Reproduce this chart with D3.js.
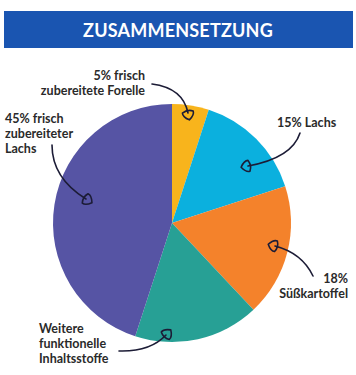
<!DOCTYPE html>
<html><head><meta charset="utf-8">
<script src="https://cdn.jsdelivr.net/npm/d3@7"></script>
<style>
html,body{margin:0;padding:0;background:#fff;}
svg{display:block;}
text{font-family:Lato,"Open Sans",sans-serif;}
</style></head>
<body><div id="chart"></div>
<script>
const title = "ZUSAMMENSETZUNG";
const categories = ["5% frisch zubereitete Forelle","15% Lachs","18% Süßkartoffel","Weitere funktionelle Inhaltsstoffe","45% frisch zubereiteter Lachs"];
const values = [5, 15, 18, 17, 45];
const colors = ["#f8b41c","#0bb0de","#f4822b","#27a095","#5654a4"];
const labelLines = [
  ["5% frisch","zubereitete Forelle"],
  ["15% Lachs"],
  ["18%","Süßkartoffel"],
  ["Weitere","funktionelle","Inhaltsstoffe"],
  ["45% frisch","zubereiteter","Lachs"]
];

const W=356,H=375;
const svg=d3.select("#chart").append("svg").attr("width",W).attr("height",H);

// banner
svg.append("rect").attr("x",4).attr("y",11).attr("width",349).attr("height",37).attr("fill","#1a55b1");
svg.append("text").attr("x",178).attr("y",36.5).attr("text-anchor","middle")
  .attr("fill","#fff").attr("font-size",18).attr("font-weight",700).attr("letter-spacing",0.2).text(title);

// pie
const cx=172, cy=223, R=119;
const pie=d3.pie().value(d=>d).sort(null);
const arc=d3.arc().innerRadius(0).outerRadius(R);
const g=svg.append("g").attr("transform",`translate(${cx},${cy})`);
g.selectAll("path").data(pie(values)).join("path")
  .attr("d",arc).attr("fill",(d,i)=>colors[i]);

// labels: [anchor, x, y, lineHeight]
const labelPos=[
  {a:"end",x:145,y:80},
  {a:"start",x:277,y:127},
  {a:"end",x:348,y:283},
  {a:"start",x:39,y:333},
  {a:"start",x:5,y:123}
];
labelLines.forEach((lines,i)=>{
  const p=labelPos[i];
  const t=svg.append("text").attr("text-anchor",p.a).attr("font-size",12.5).attr("font-weight",700).attr("fill","#2a2a2a");
  lines.forEach((l,j)=>t.append("tspan").attr("x",p.x).attr("y",p.y+j*15).text(l));
});

// arrows: start, control, end
const arrows=[
  {s:[152,84],c:[183,88],e:[188,113]},
  {s:[300,133],c:[292,158],e:[248,166]},
  {s:[313,276],c:[302,253],e:[275,246]},
  {s:[119,351],c:[150,352],e:[166,335]},
  {s:[52,145],c:[52,178],e:[86,199]}
];
const ink="#1c1c36";
arrows.forEach(a=>{
  const p=d3.path();
  p.moveTo(a.s[0],a.s[1]);
  p.quadraticCurveTo(a.c[0],a.c[1],a.e[0],a.e[1]);
  svg.append("path").attr("d",p.toString()).attr("fill","none").attr("stroke",ink).attr("stroke-width",1.6).attr("stroke-linecap","round");
  // head
  let dx=a.e[0]-a.c[0], dy=a.e[1]-a.c[1];
  const L=Math.hypot(dx,dy); dx/=L; dy/=L;
  const px=-dy, py=dx;
  const tip=[a.e[0]+dx*7,a.e[1]+dy*7];
  const l=[a.e[0]-dx*1+px*5.5,a.e[1]-dy*1+py*5.5];
  const r=[a.e[0]-dx*1-px*5.5,a.e[1]-dy*1-py*5.5];
  const bc=[a.e[0]-dx*4,a.e[1]-dy*4];
  const h=d3.path();
  h.moveTo(tip[0],tip[1]);
  h.quadraticCurveTo(a.e[0]+dx*3+px*6,a.e[1]+dy*3+py*6,l[0],l[1]);
  h.quadraticCurveTo(bc[0],bc[1],r[0],r[1]);
  h.quadraticCurveTo(a.e[0]+dx*3-px*6,a.e[1]+dy*3-py*6,tip[0],tip[1]);
  h.closePath();
  svg.append("path").attr("d",h.toString()).attr("fill","none").attr("stroke",ink).attr("stroke-width",1.6).attr("stroke-linejoin","round");
});
</script></body></html>
